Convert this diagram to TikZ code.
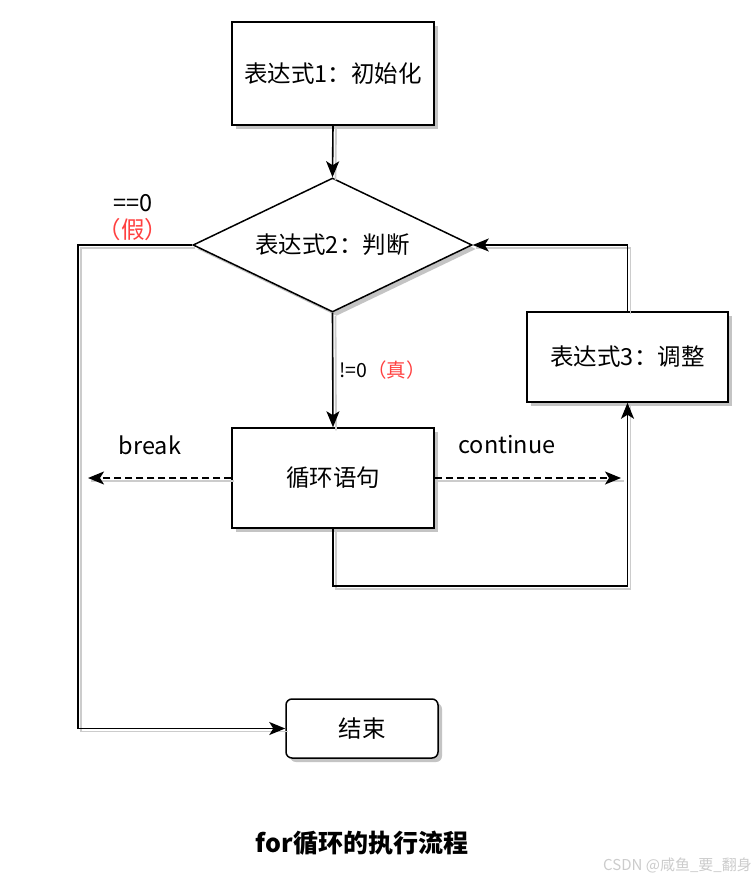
\documentclass[tikz,border=0pt]{standalone}
\usepackage{fontspec}
\setmainfont{Noto Sans CJK SC}
\usetikzlibrary{arrows.meta,shadows,shapes.geometric,calc}
\definecolor{lblred}{HTML}{FF4040}
\definecolor{shade}{HTML}{C4C4C4}
\definecolor{lshade}{HTML}{CCCCCC}
\begin{document}
\begin{tikzpicture}[x=1pt,y=-1pt,
  box/.style={draw=black, line width=1.5pt, fill=white, inner sep=0pt,
    drop shadow={shadow xshift=4pt, shadow yshift=-4pt, fill=shade, opacity=1},
    font=\fontsize{23.5}{28}\selectfont},
  dia/.style={diamond, draw=black, line width=1.5pt, fill=white, inner sep=0pt,
    drop shadow={shadow xshift=4pt, shadow yshift=-4pt, fill=shade, opacity=1},
    font=\fontsize{23.5}{28}\selectfont},
  conn/.style={line width=1.6pt, draw=black, -{Stealth[length=16pt,width=13pt,inset=4pt]},
    preaction={draw=lshade, line width=1.8pt, -, transform canvas={shift={(3pt,-3pt)}}}},
  dsh/.style={dash pattern=on 7pt off 4pt},
  lbl/.style={font=\fontsize{23.5}{28}\selectfont, inner sep=0pt},
  small/.style={font=\fontsize{19.5}{23}\selectfont, inner sep=0pt}
]
\fill[white] (0,0) rectangle (753,880);
\useasboundingbox (0,0) rectangle (753,880);

\node[box, minimum width=202pt, minimum height=103pt] (b1) at (333,73.5) {表达式1：初始化};
\node[dia, minimum width=279pt, minimum height=134pt, aspect=2.08] (d) at (332.5,245) {表达式2：判断};
\node[box, minimum width=201pt, minimum height=90pt] (b3) at (627.5,357) {表达式3：调整};
\node[box, minimum width=202pt, minimum height=100pt] (lp) at (333,478) {循环语句};
\node[box, rounded corners=6pt, minimum width=152pt, minimum height=59pt] (e) at (362,728.5) {结束};

\coordinate (lc) at (78,245);
\coordinate (brk) at (88,478);
\coordinate (cnt) at (621,478);

\draw[conn] (b1.south) -- (d.north);
\draw[conn] (d.south) -- (lp.north);
\draw[conn] (d.west) -- (lc) |- (e.west);
\draw[conn] (lp.south) -- ++(0,57) -| (b3.south);
\draw[conn] (b3.north) |- (d.east);
\draw[conn, dsh] (lp.west) -- (brk);
\draw[conn, dsh] (lp.east) -- (cnt);

\node[lbl] (eq) at (133,203) {==0};
\node[lbl, text=lblred] (jia) at (133,230) {（假）};
\node[small, anchor=west] (ne) at (339,370) {!=0\textcolor{lblred}{（真）}};
\node[lbl] (bk) at (150,445) {break};
\node[lbl] (ct) at (507,445) {continue};

\node[font=\bfseries\fontsize{25}{30}\selectfont] (title) at (362,843) {for循环的执行流程};
\node[font=\fontsize{15}{18}\selectfont, text=gray!40, anchor=west, inner sep=0pt] (wm) at (603,865) {CSDN @咸鱼\_要\_翻身};
\end{tikzpicture}
\end{document}
